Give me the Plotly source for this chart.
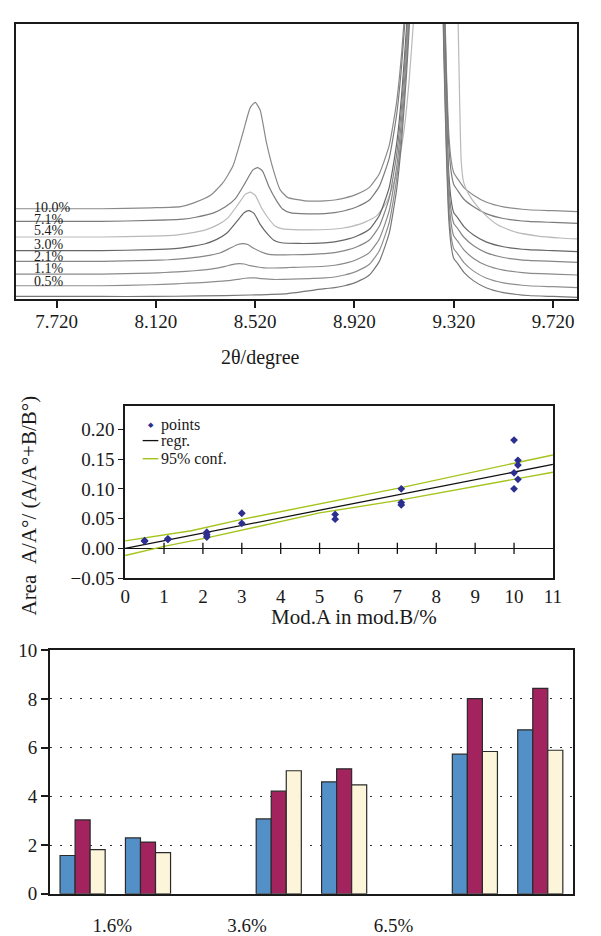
import plotly.graph_objects as go

# ---------------- Panel 1: diffraction patterns ----------------
curve_labels = ["10.0%", "7.1%", "5.4%", "3.0%", "2.1%", "1.1%", "0.5%", ""]
label_heights = [94.3, 82.0, 70.3, 56.3, 43.7, 32.0, 18.7]

x_r = [8.80, 8.84, 8.88, 8.93, 8.98, 9.02, 9.06, 9.09, 9.11, 9.13, 9.15, 9.20,
       9.265, 9.28, 9.29, 9.30, 9.31, 9.32, 9.335, 9.36, 9.40, 9.45, 9.52, 9.62, 9.72, 9.818]

x_100 = [7.555, 7.90, 8.10, 8.22, 8.27, 8.34, 8.39, 8.43, 8.47, 8.50, 8.52, 8.54, 8.565,
         8.595, 8.62, 8.65, 8.72] + x_r
y_100 = [93, 93, 94, 95.2, 98.8, 106.8, 119.8, 136.8, 170.5, 196.8, 202.2, 194.1, 161.1,
         131.1, 112.7, 104.7, 101.2,
         101, 102, 104, 108, 115, 129, 158, 203, 253, 323, 423, 1593,
         540, 340, 240, 170, 142, 130, 124, 115, 107, 100, 95, 92, 91, 90]

x_71 = [7.555, 7.90, 8.10, 8.23, 8.28, 8.35, 8.40, 8.44, 8.48, 8.51, 8.53, 8.55, 8.575,
        8.605, 8.63, 8.66, 8.73] + x_r
y_71 = [80, 80, 81, 82.3, 84.3, 88.5, 95.0, 103.4, 119.8, 132.6, 135.3, 131.5, 115.8,
        101.6, 92.8, 89.1, 87.8,
        88, 89, 91, 95, 102, 116, 145, 190, 240, 310, 410, 1580,
        528, 328, 228, 158, 130, 118, 112, 103, 95, 88, 83, 80, 79, 78]

x_54 = [7.555, 7.90, 8.10, 8.20, 8.25, 8.32, 8.37, 8.41, 8.45, 8.48, 8.50, 8.52, 8.545,
        8.575, 8.60, 8.63, 8.70,
        8.83, 8.87, 8.91, 8.96, 9.01, 9.05, 9.09, 9.12, 9.14, 9.16, 9.18, 9.23,
        9.28, 9.31, 9.335, 9.35, 9.36, 9.38, 9.41, 9.45, 9.50, 9.57, 9.66, 9.75, 9.818]
y_54 = [64, 64, 65, 66, 67.7, 71.3, 76.7, 83.7, 97.2, 107.8, 110, 106.9, 94.1,
        82.5, 75.3, 72.4, 71.4,
        72, 73, 75, 79, 86, 100, 129, 174, 224, 294, 394, 1564,
        662, 462, 312, 142, 120, 108, 97, 86, 76, 69, 65, 63, 62]

x_30 = [7.555, 7.90, 8.10, 8.195, 8.245, 8.315, 8.365, 8.405, 8.445, 8.475, 8.495, 8.515,
        8.54, 8.57, 8.595, 8.625, 8.695] + x_r
y_30 = [50, 50, 51, 52.0, 53.6, 56.8, 61.6, 67.8, 79.7, 89.0, 91.0, 88.3,
        77.0, 66.9, 60.7, 58.1, 57.4,
        58, 59, 61, 65, 72, 86, 115, 160, 210, 280, 380, 1550,
        499, 299, 199, 129, 101, 89, 84, 75, 66, 59, 54, 51, 50, 49]

x_21 = [7.555, 7.90, 8.10, 8.17, 8.22, 8.29, 8.34, 8.38, 8.42, 8.45, 8.47, 8.49, 8.515,
        8.545, 8.57, 8.60, 8.67] + x_r
y_21 = [39, 39, 40, 40.7, 41.6, 43.3, 45.4, 47.9, 52.7, 56.3, 57.2, 56.3, 52.3,
        48.7, 46.5, 45.7, 45.8,
        47, 48, 50, 54, 61, 75, 104, 149, 199, 269, 369, 1539,
        488, 288, 188, 118, 90, 78, 73, 64, 55, 48, 43, 40, 39, 38]

x_11 = [7.555, 7.90, 8.10, 8.155, 8.205, 8.275, 8.325, 8.365, 8.405, 8.435, 8.455, 8.475,
        8.50, 8.53, 8.555, 8.585, 8.655] + x_r
y_11 = [26, 26, 27, 27.6, 28.3, 29.4, 30.6, 32.0, 34.3, 36.1, 36.6, 36.3,
        34.6, 33.2, 32.4, 32.2, 32.7,
        34, 35, 37, 41, 48, 62, 91, 136, 186, 256, 356, 1526,
        475, 275, 175, 105, 77, 65, 60, 51, 42, 35, 30, 27, 26, 25]

x_05 = [7.555, 7.90, 8.10, 8.20, 8.25, 8.32, 8.37, 8.41, 8.45, 8.48, 8.50, 8.52, 8.545,
        8.575, 8.60, 8.63, 8.70] + x_r
y_05 = [14, 14, 15, 16, 16.6, 17.5, 18.4, 19.2, 20.6, 21.7, 22, 22, 21.3,
        20.7, 20.4, 20.5, 21,
        22, 23, 25, 29, 36, 50, 79, 124, 174, 244, 344, 1514,
        462, 262, 162, 92, 64, 52, 47, 38, 29, 22, 17, 14, 13, 12]

x_00 = [7.555, 7.90, 8.10, 8.30, 8.50, 8.65] + x_r
y_00 = [3, 3, 3, 3.5, 4.5, 6,
        11, 12, 14, 18, 25, 39, 68, 113, 163, 233, 333, 1503,
        452, 252, 152, 82, 54, 42, 37, 28, 19, 12, 7, 4, 3, 2]

curves_x = [x_100, x_71, x_54, x_30, x_21, x_11, x_05, x_00]
curves_y = [y_100, y_71, y_54, y_30, y_21, y_11, y_05, y_00]
curve_colors = ["#8a8a8a", "#7c7c7c", "#b9b9b9", "#666666", "#868686", "#8a8a8a", "#8e8e8e", "#777777"]

xrd_ticks = [7.72, 8.12, 8.52, 8.92, 9.32, 9.72]
xrd_ticktext = ["7.720", "8.120", "8.520", "8.920", "9.320", "9.720"]

# ---------------- Panel 2: regression ----------------
pts_x = [0.5, 0.5, 1.1, 1.1, 2.1, 2.1, 2.1, 3.0, 3.0, 5.4, 5.4, 7.1, 7.1, 7.1,
         10.0, 10.0, 10.0, 10.1, 10.1, 10.1]
pts_y = [0.013, 0.012, 0.016, 0.015, 0.027, 0.023, 0.019, 0.059, 0.042, 0.057, 0.049,
         0.100, 0.077, 0.073, 0.182, 0.127, 0.100, 0.148, 0.140, 0.116]
reg_x = [0, 11]
reg_y = [0.0, 0.141]
conf_up_x = [0, 1.7, 3, 5, 7.1, 10, 11]
conf_up_y = [0.0126, 0.0295, 0.0487, 0.0743, 0.102, 0.143, 0.157]
conf_lo_x = [0, 1, 2.1, 3, 5, 7.1, 10, 11]
conf_lo_y = [-0.012, 0.0033, 0.0175, 0.0306, 0.0595, 0.0815, 0.117, 0.128]
mid_xticks = list(range(0, 12))
mid_yticks = [-0.05, 0.0, 0.05, 0.10, 0.15, 0.20]
mid_yticktext = ["\u22120.05", "0.00", "0.05", "0.10", "0.15", "0.20"]

# ---------------- Panel 3: bars ----------------
slots = [1, 2, 3, 4, 5, 6, 7, 8]
blue_vals = [1.57, 2.29, None, 3.07, 4.59, None, 5.73, 6.73]
red_vals = [3.03, 2.12, None, 4.21, 5.13, None, 8.01, 8.43]
cream_vals = [1.81, 1.69, None, 5.05, 4.47, None, 5.84, 5.89]
bar_tickpos = [1.455, 3.515, 5.754]
bar_ticktext = ["1.6%", "3.6%", "6.5%"]

FONT = "Liberation Serif, Times New Roman, serif"
TXT = "#1a1a1a"

fig = go.Figure()

for cx, cy, col in zip(curves_x, curves_y, curve_colors):
    fig.add_trace(go.Scatter(x=cx, y=cy, mode="lines", xaxis="x", yaxis="y",
                             line=dict(color=col, width=1.2, shape="spline", smoothing=0.5),
                             showlegend=False, hoverinfo="skip"))

# middle
fig.add_trace(go.Scatter(x=conf_up_x, y=conf_up_y, mode="lines", xaxis="x2", yaxis="y2",
                         line=dict(color="#a4c41c", width=1.4), showlegend=False))
fig.add_trace(go.Scatter(x=conf_lo_x, y=conf_lo_y, mode="lines", xaxis="x2", yaxis="y2",
                         line=dict(color="#a4c41c", width=1.4), showlegend=False))
fig.add_trace(go.Scatter(x=reg_x, y=reg_y, mode="lines", xaxis="x2", yaxis="y2",
                         line=dict(color="#111111", width=1.3), showlegend=False))
fig.add_trace(go.Scatter(x=mid_xticks[1:-1], y=[0] * (len(mid_xticks) - 2), mode="markers",
                         xaxis="x2", yaxis="y2",
                         marker=dict(symbol="line-ns", size=8, line=dict(color="#111", width=1.3)),
                         showlegend=False, hoverinfo="skip"))
fig.add_trace(go.Scatter(x=pts_x, y=pts_y, mode="markers", xaxis="x2", yaxis="y2",
                         marker=dict(symbol="diamond", size=6, color="#2c2f8f"),
                         showlegend=False))

# bottom
for vals, col in [(blue_vals, "#5490c8"), (red_vals, "#a3235f"), (cream_vals, "#fdf5d9")]:
    fig.add_trace(go.Bar(x=slots, y=vals, xaxis="x3", yaxis="y3",
                         marker=dict(color=col, line=dict(color="#2a2a2a", width=1.2)),
                         showlegend=False))

W, H = 601, 936
def xd(a, b):
    return [a / W, b / W]
def yd(top, bot):
    return [1 - bot / H, 1 - top / H]

axis_line = dict(showline=True, linecolor="#1a1a1a", linewidth=1.6, mirror=True,
                 showgrid=False, zeroline=False)
tickfont = dict(family=FONT, size=19, color=TXT)

fig.update_layout(
    width=W, height=H, margin=dict(l=0, r=0, t=0, b=0),
    paper_bgcolor="white", plot_bgcolor="white",
    barmode="group", bargap=0.31, bargroupgap=0.0,
    xaxis=dict(domain=xd(11, 586), anchor="y", range=[7.555, 9.818],
               tickvals=xrd_ticks, ticktext=xrd_ticktext, ticks="outside", ticklen=7,
               tickwidth=1.5, tickcolor="#1a1a1a", tickfont=tickfont, ticklabelstandoff=-3,
               **axis_line),
    yaxis=dict(domain=yd(14, 297), anchor="x", range=[0, 283], showticklabels=False,
               ticks="", **axis_line),
    xaxis2=dict(domain=xd(123, 561), anchor="y2", range=[0, 11], tickvals=mid_xticks,
                ticks="", tickfont=tickfont, **axis_line),
    yaxis2=dict(domain=yd(406, 583), anchor="x2", range=[-0.05, 0.24], tickvals=mid_yticks,
                ticktext=mid_yticktext, ticks="outside", ticklen=5, tickwidth=1.3,
                tickcolor="#1a1a1a", tickfont=tickfont,
                showline=True, linecolor="#1a1a1a", linewidth=1.6, mirror=True,
                showgrid=False, zeroline=True, zerolinecolor="#111111", zerolinewidth=1.3),
    xaxis3=dict(domain=xd(46, 581.5), anchor="y3", range=[0.5, 8.5], tickvals=bar_tickpos,
                ticktext=bar_ticktext, ticks="", tickfont=tickfont, ticklabelstandoff=14,
                **axis_line),
    yaxis3=dict(domain=yd(657, 907), anchor="x3", range=[0, 10], tickvals=[0, 2, 4, 6, 8, 10],
                ticks="outside", ticklen=7, tickwidth=1.5, tickcolor="#1a1a1a", tickfont=tickfont,
                showline=True, linecolor="#1a1a1a", linewidth=1.6, mirror=True,
                showgrid=True, gridcolor="#333333", gridwidth=1.3, griddash="2px,8px",
                zeroline=False),
)

ann = []
for lab, h in zip(curve_labels, label_heights):
    if lab:
        ann.append(dict(x=7.622, y=h, xref="x", yref="y", text=lab, showarrow=False,
                        xanchor="left", yanchor="middle",
                        font=dict(family=FONT, size=14, color=TXT)))
ann.append(dict(x=262 / W, y=1 - 357 / H, xref="paper", yref="paper", text="2θ/degree",
                showarrow=False, xanchor="center", yanchor="middle",
                font=dict(family=FONT, size=20, color=TXT)))
ann.append(dict(x=357 / W, y=1 - 623 / H, xref="paper", yref="paper", text="Mod.A in mod.B/%",
                showarrow=False, xanchor="center", yanchor="middle",
                font=dict(family=FONT, size=21, color=TXT)))
ann.append(dict(x=25 / W, y=1 - 508 / H, xref="paper", yref="paper",
                text="Area \u00a0A/A°/ (A/A°+B/B°)", textangle=-90,
                showarrow=False, xanchor="center", yanchor="middle",
                font=dict(family=FONT, size=21, color=TXT)))
# manual legend for middle panel
leg_font = dict(family=FONT, size=16, color=TXT)
ann.append(dict(x=0.0594, y=0.885, xref="x2 domain", yref="y2 domain", text="◆",
                showarrow=False, xanchor="center", yanchor="middle",
                font=dict(family="DejaVu Sans", size=7, color="#2c2f8f")))
for txt, yy in [("points", 0.890), ("regr.", 0.797), ("95% conf.", 0.692)]:
    ann.append(dict(x=0.0799, y=yy, xref="x2 domain", yref="y2 domain", text=txt,
                    showarrow=False, xanchor="left", yanchor="middle", font=leg_font))
fig.update_layout(annotations=ann)

fig.add_shape(type="line", xref="x2 domain", yref="y2 domain", x0=0.041, x1=0.0776,
              y0=0.797, y1=0.797, line=dict(color="#111111", width=1.3))
fig.add_shape(type="line", xref="x2 domain", yref="y2 domain", x0=0.041, x1=0.0776,
              y0=0.692, y1=0.692, line=dict(color="#a4c41c", width=1.4))

fig.write_html("out.html")
